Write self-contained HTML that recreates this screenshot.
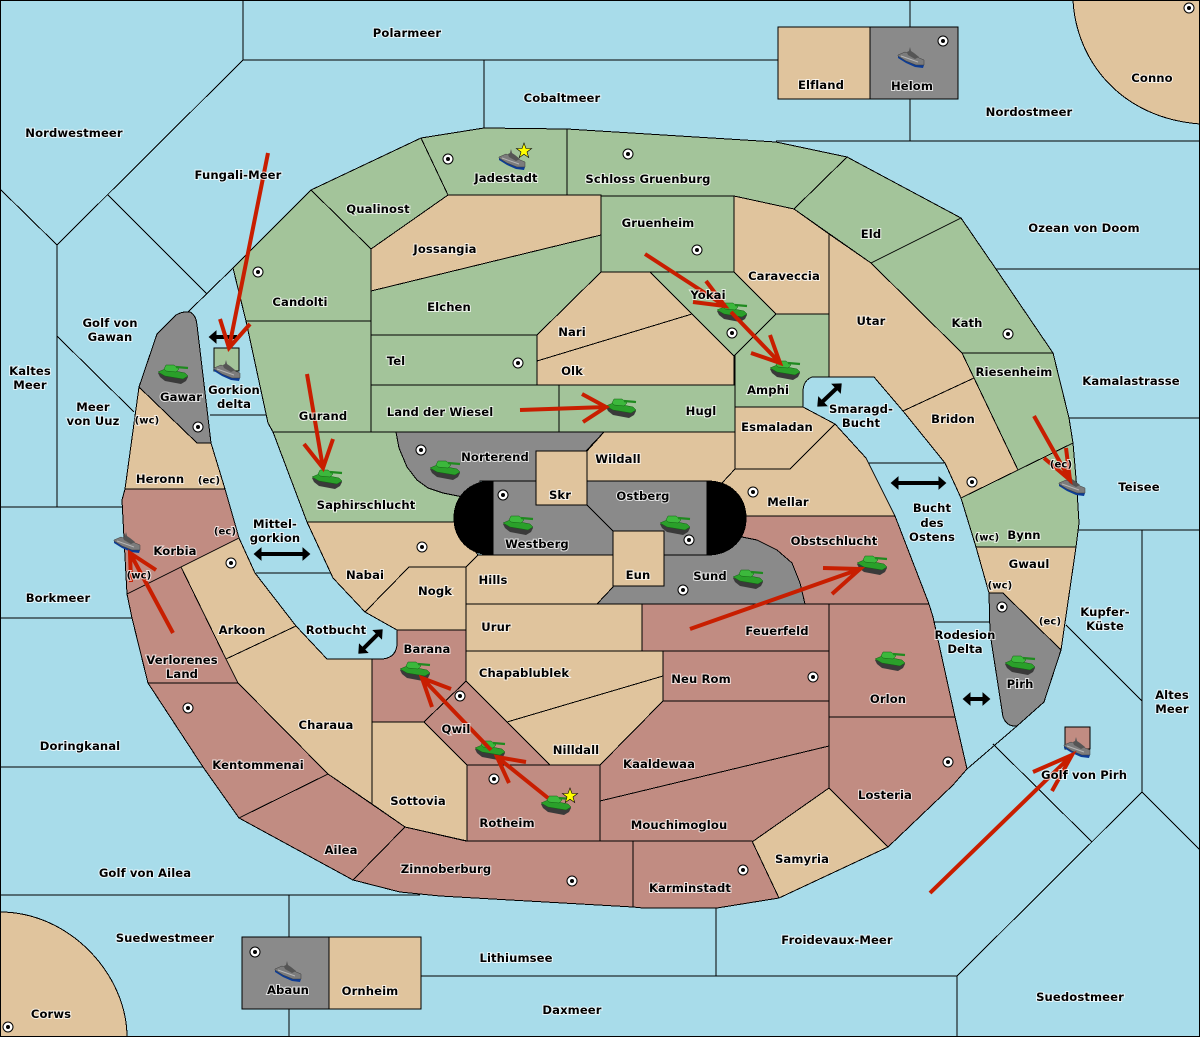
<!DOCTYPE html>
<html><head><meta charset="utf-8"><style>
html,body{margin:0;padding:0;background:#a8dcea}
svg{display:block}
.l{font:bold 11.6px "DejaVu Sans","Liberation Sans",sans-serif;letter-spacing:.1px;text-anchor:middle;fill:#000;stroke:#fff;stroke-opacity:.75;stroke-width:2px;paint-order:stroke;dominant-baseline:central}
.l .s{font-size:10px}
.g{fill:#a3c49a}.t{fill:#e0c49d}.r{fill:#c18c82}.y{fill:#8a8a8a}
.land path{stroke:#000;stroke-width:1;shape-rendering:crispEdges}
.sea{stroke:#000;stroke-width:1;fill:none;shape-rendering:crispEdges}
.red{fill:none;stroke:#c81e00;stroke-width:4}
.blk{stroke:#000;stroke-width:4;fill:none}
</style></head><body>
<svg xmlns="http://www.w3.org/2000/svg" width="1200" height="1037" viewBox="0 0 1200 1037">
<defs>
<marker id="h" viewBox="0 0 10 10" refX="7" refY="5" markerWidth="2" markerHeight="3.5" preserveAspectRatio="none" orient="auto-start-reverse"><path d="M0,0L10,5L0,10Z" fill="#000"/></marker>
<symbol id="tank" overflow="visible" viewBox="-16 -10 32 20" width="32" height="20">
<path d="M-15,-1L-13,3L-8,7L8,10L13,7L15,3L13,0Z" fill="#3a3a3a"/>
<path d="M-15,-2L-8,-5L12,-1L15,2L10,5L-8,2Z" fill="#2aa02a" stroke="#146014" stroke-width=".5"/>
<path d="M-7,-9L1,-9L6,-5L3,-2L-7,-3L-9,-5Z" fill="#3cb83c" stroke="#146014" stroke-width=".5"/>
<path d="M3,-7L15,-6" stroke="#1f8a1f" stroke-width="2.2" fill="none"/>
</symbol>
<symbol id="ship" overflow="visible" viewBox="-14 -12 28 24" width="28" height="24">
<path d="M-12,1V3L-4,8L5,12L13,13L14,10V7Z" fill="#0c3c96"/>
<path d="M-12,0L-5,-3L14,5V10L6,10L-4,6L-12,1Z" fill="#7c7c7c" stroke="#3c3c3c" stroke-width=".5"/>
<path d="M-3,-3L-1,-4L0,-8L1,-4L4,-2L9,2L5,4L-2,0Z" fill="#555"/>
<path d="M-9,1L8,7" stroke="#b5b5b5" stroke-width="1" fill="none"/>
</symbol>
<symbol id="dot" overflow="visible" viewBox="-6 -6 12 12" width="12" height="12"><circle r="5" fill="#fff" stroke="#000" stroke-width="1"/><circle r="2" fill="#000"/></symbol>
<symbol id="star" overflow="visible" viewBox="-9 -9 18 18" width="18" height="18"><path d="M0,-8L2,-2.5L7.6,-2.5L3,1L4.7,6.5L0,3.2L-4.7,6.5L-3,1L-7.6,-2.5L-2,-2.5Z" fill="#ff0" stroke="#000" stroke-width=".6"/></symbol>
</defs>
<rect width="1200" height="1037" fill="#a8dcea"/>
<path class="sea" d="M243,0V60H778M243,60L57,245L0,189M57,245V507M108,195L207,294M233,268L188,312M57,336L134,412M0,507H122M0,618H132M0,767H203M0,895H420M289,895V937M289,1009V1037M421,976H957M716,908V976M957,976V1037M957,976L1142,792L1200,850M1142,792V530M1078,530H1200M1066,625L1142,701M993,744L1092,842M1017,726L967,769M996,269H1200M1069,418H1200M776,141H1200M910,0V27M910,99V141M484,60V128M934,622H989M869,463H945M210,415H266M256,573H330"/>
<g class="land">
<path class="t" d="M1073,0C1076,60 1120,118 1200,124V0Z"/>
<path class="t" d="M0,912C70,912 127,975 127,1037H0Z"/>
<path class="t" d="M778,27H870V99H778Z"/><path class="y" d="M870,27H958V99H870Z"/>
<path class="y" d="M242,937H329V1009H242Z"/><path class="t" d="M329,937H421V1009H329Z"/>
<path class="g" d="M233,268L311,190L371,249V321H246Z"/>
<path class="g" d="M311,190L421,138L448,195L371,249Z"/>
<path class="g" d="M421,138L484,128L567,129V195H448Z"/>
<path class="g" d="M567,129L776,142L847,157L794,209L734,196H567Z"/>
<path class="g" d="M847,157L961,218L871,263L794,209Z"/>
<path class="g" d="M961,218L996,269L1053,353H962L871,263Z"/>
<path class="t" d="M448,195H601V235L371,291V249Z"/>
<path class="g" d="M371,291L601,235V272L537,335H371Z"/>
<path class="g" d="M601,196H734V272H601Z"/>
<path class="t" d="M734,196L794,209L829,234V314H776L734,272Z"/>
<path class="t" d="M537,335L601,272H650L692,314L537,361Z"/>
<path class="t" d="M537,361L692,314L734,356V385H537Z"/>
<path class="g" d="M650,272H734L776,314L734,356Z"/>
<path class="g" d="M776,314H829V377H812Q804,380 803,390V407H735V355Z"/>
<path class="g" d="M371,335H537V385H371Z"/>
<path class="g" d="M371,385H559V432H371Z"/>
<path class="g" d="M559,385H735V432H559Z"/>
<path class="g" d="M246,321H371V432H273L268,423Z"/>
<path class="g" d="M273,432H396L399,448L407,467L417,480L428,488L443,493L458,496L475,500V522H307Z"/>
<path class="t" d="M829,234L871,263L962,353L974,378L903,411L874,377H829Z"/>
<path class="t" d="M974,378L1018,470L961,498L945,463L903,411Z"/>
<path class="g" d="M962,353H1053L1069,418L1073,443L1018,470L974,378Z"/>
<path class="g" d="M1018,470L1073,443L1077,490L1079,523L1076,547H976L961,498Z"/>
<path class="t" d="M976,547H1076L1061,650L1003,593H989Z"/>
<path class="y" d="M989,593H1003L1061,650L1044,702L1017,726Q1007,727 1003,717L990,633Z"/>
<path class="t" d="M604,432H735V469L722,483H587V451Z"/>
<path class="t" d="M735,407H803L835,424L790,469H735Z"/>
<path class="t" d="M735,469H790L835,424L866,458L895,516H745L722,483Z"/>
<path class="r" d="M745,516H895L929,604H805L800,583L792,563L777,550L757,540L742,537Z"/>
<path class="r" d="M642,604H829V651H642Z"/>
<path class="r" d="M663,651H829V701H663Z"/>
<path class="r" d="M829,604H929L933,617L955,717H829Z"/>
<path class="r" d="M829,717H955L967,769L953,785L888,847L829,788Z"/>
<path class="t" d="M829,788L888,847L779,898L752,842Z"/>
<path class="r" d="M600,765L663,701H829V746L600,801Z"/>
<path class="r" d="M600,801L829,746V788L752,842H600Z"/>
<path class="r" d="M633,841H752L779,898L717,908H643L633,907Z"/>
<path class="r" d="M353,880L405,827L466,841H633V907L510,900L440,896L400,892Z"/>
<path class="r" d="M239,818L328,774L405,827L353,880Z"/>
<path class="r" d="M148,683H238L328,774L239,818L203,767Z"/>
<path class="r" d="M127,594L181,567L238,683H148L132,618Z"/>
<path class="t" d="M181,567L239,538L255,573L296,626L226,659Z"/>
<path class="t" d="M226,659L296,626L327,659H372V804L328,774L238,683Z"/>
<path class="r" d="M125,489H225L239,538L127,594L125,557L122,500Z"/>
<path class="t" d="M139,387L197,443H211L225,489H125Z"/>
<path class="y" d="M157,334L176,315Q183,311 190,312Q196,315 197,325L211,443H197L139,387Z"/>
<path class="t" d="M307,522H454L478,555L466,567H409L365,612L333,578Z"/>
<path class="t" d="M409,567H466V630H397L365,612Z"/>
<path class="t" d="M466,567L478,555H613V587L597,604H466Z"/>
<path class="t" d="M466,604H642V651H466Z"/>
<path class="t" d="M466,651H663V676L507,722L466,681Z"/>
<path class="t" d="M507,722L663,676V701L600,765H550Z"/>
<path class="r" d="M466,681L550,765H467L424,722Z"/>
<path class="r" d="M397,630H466V681L424,722H372V659H383Q397,657 397,643Z"/>
<path class="t" d="M372,722H424L467,765V841L405,827L372,804Z"/>
<path class="r" d="M467,765H600V841H467Z"/>
<path class="y" d="M396,432H604L586,451H536V481H480V500L458,496L443,493L428,488L417,480L407,467L399,448Z"/>
<path class="y" d="M597,604L613,587V555H707L730,540L742,537L757,540L777,550L792,563L800,583L805,604Z"/>
<path d="M493,481H707C732,481 746,498 746,518C746,538 732,555 707,555H493C468,555 454,538 454,518C454,498 468,481 493,481Z" fill="#000"/>
<path class="y" d="M493,481H707V555H493Z"/>
<path class="t" d="M536,451H587V505H536Z"/>
<path class="t" d="M613,531H664V586H613Z"/>
<path class="g" d="M214,348H239V371H214Z"/>
<path class="r" d="M1065,727H1090V749H1065Z"/>
</g>
<rect x=".5" y=".5" width="1199" height="1036" fill="none" stroke="#000"/>
<g class="blk"><path d="M237,337H211" marker-end="url(#h)"/><path d="M819,405L840,385" marker-start="url(#h)" marker-end="url(#h)"/><path d="M893,483H944" marker-start="url(#h)" marker-end="url(#h)"/><path d="M256,554H308" marker-start="url(#h)" marker-end="url(#h)"/><path d="M360,652L381,631" marker-start="url(#h)" marker-end="url(#h)"/><path d="M965,699H988" marker-start="url(#h)" marker-end="url(#h)"/></g>
<g>
<use href="#dot" x="2" y="1021"/><use href="#dot" x="1183" y="2"/><use href="#dot" x="937" y="35"/><use href="#dot" x="442" y="153"/><use href="#dot" x="622" y="148"/><use href="#dot" x="691" y="244"/><use href="#dot" x="252" y="266"/><use href="#dot" x="726" y="327"/><use href="#dot" x="1002" y="328"/><use href="#dot" x="512" y="357"/><use href="#dot" x="415" y="444"/><use href="#dot" x="192" y="421"/><use href="#dot" x="966" y="476"/><use href="#dot" x="747" y="486"/><use href="#dot" x="497" y="489"/><use href="#dot" x="683" y="534"/><use href="#dot" x="677" y="584"/><use href="#dot" x="416" y="541"/><use href="#dot" x="225" y="557"/><use href="#dot" x="182" y="702"/><use href="#dot" x="454" y="690"/><use href="#dot" x="488" y="773"/><use href="#dot" x="566" y="875"/><use href="#dot" x="807" y="671"/><use href="#dot" x="942" y="756"/><use href="#dot" x="737" y="864"/><use href="#dot" x="996" y="601"/><use href="#dot" x="249" y="946"/>
</g>
<g>
<use href="#tank" x="157" y="364"/><use href="#tank" x="311" y="469"/><use href="#tank" x="429" y="460"/><use href="#tank" x="502" y="515"/><use href="#tank" x="659" y="515"/><use href="#tank" x="732" y="569"/><use href="#tank" x="856" y="555"/><use href="#tank" x="874" y="651"/><use href="#tank" x="1004" y="655"/><use href="#tank" x="716" y="302"/><use href="#tank" x="769" y="360"/><use href="#tank" x="605" y="398"/><use href="#tank" x="399" y="661"/><use href="#tank" x="474" y="740"/><use href="#tank" x="540" y="795"/>
<use href="#ship" x="497" y="145"/><use href="#ship" x="212" y="356"/><use href="#ship" x="896" y="43"/><use href="#ship" x="273" y="957"/><use href="#ship" x="112" y="528"/><use href="#ship" x="1057" y="471"/><use href="#ship" x="1062" y="733"/>
<use href="#star" x="515" y="142"/><use href="#star" x="561" y="787"/>
</g>
<g class="red">
<path d="M268,153L229,348M220,319L229,348L250,324"/>
<path d="M307,374L323,468M304,444L323,468L333,439"/>
<path d="M520,410L606,407M582,394L606,407L583,422"/>
<path d="M645,254L725,306M706,281L725,306L693,302"/>
<path d="M731,312L780,363M770,335L780,363L751,353"/>
<path d="M1034,416L1070,480M1066,448L1070,480L1044,458"/>
<path d="M690,629L860,569M823,568L860,569L832,594"/>
<path d="M548,798L497,757M526,762L497,757L509,783"/>
<path d="M491,750L422,678M451,689L422,678L432,707"/>
<path d="M173,633L130,553M156,570L130,553L131,582"/>
<path d="M930,893L1072,755M1033,772L1072,755L1052,791"/>
</g>
<g class="l" transform="translate(0,1)">
<text x="407" y="32">Polarmeer</text><text x="562" y="97">Cobaltmeer</text><text x="821" y="84">Elfland</text><text x="912" y="85">Helom</text><text x="1152" y="77">Conno</text><text x="1029" y="111">Nordostmeer</text><text x="74" y="132">Nordwestmeer</text><text x="238" y="174">Fungali-Meer</text><text x="506" y="177">Jadestadt</text><text x="378" y="208">Qualinost</text><text x="648" y="178">Schloss Gruenburg</text><text x="658" y="222">Gruenheim</text><text x="871" y="233">Eld</text><text x="1084" y="227">Ozean von Doom</text><text x="445" y="248">Jossangia</text><text x="784" y="275">Caraveccia</text><text x="708" y="294">Yokai</text><text x="300" y="301">Candolti</text><text x="449" y="306">Elchen</text><text x="871" y="320">Utar</text><text x="967" y="322">Kath</text><text x="110" y="322">Golf von</text><text x="110" y="336">Gawan</text><text x="572" y="331">Nari</text><text x="396" y="360">Tel</text><text x="572" y="370">Olk</text><text x="30" y="370">Kaltes</text><text x="30" y="384">Meer</text><text x="1014" y="371">Riesenheim</text><text x="1131" y="380">Kamalastrasse</text><text x="768" y="389">Amphi</text><text x="181" y="396">Gawar</text><text x="234" y="389">Gorkion</text><text x="234" y="403">delta</text><text x="93" y="406">Meer</text><text x="93" y="420">von Uuz</text><text x="440" y="411">Land der Wiesel</text><text x="701" y="410">Hugl</text><text x="861" y="408">Smaragd-</text><text x="861" y="422">Bucht</text><text x="323" y="415">Gurand</text><text x="953" y="418">Bridon</text><text x="777" y="426">Esmaladan</text><text x="495" y="456">Norterend</text><text x="618" y="458">Wildall</text><text x="160" y="478">Heronn</text><text x="560" y="494">Skr</text><text x="643" y="495">Ostberg</text><text x="1139" y="486">Teisee</text><text x="788" y="501">Mellar</text><text x="366" y="504">Saphirschlucht</text><text x="932" y="507">Bucht</text><text x="932" y="522">des</text><text x="932" y="536">Ostens</text><text x="1024" y="534">Bynn</text><text x="275" y="523">Mittel-</text><text x="275" y="537">gorkion</text><text x="834" y="540">Obstschlucht</text><text x="537" y="543">Westberg</text><text x="175" y="550">Korbia</text><text x="1029" y="563">Gwaul</text><text x="365" y="574">Nabai</text><text x="638" y="574">Eun</text><text x="710" y="575">Sund</text><text x="493" y="579">Hills</text><text x="435" y="590">Nogk</text><text x="58" y="597">Borkmeer</text><text x="1105" y="611">Kupfer-</text><text x="1105" y="625">Küste</text><text x="496" y="626">Urur</text><text x="336" y="629">Rotbucht</text><text x="242" y="629">Arkoon</text><text x="777" y="630">Feuerfeld</text><text x="965" y="634">Rodesion</text><text x="965" y="648">Delta</text><text x="427" y="648">Barana</text><text x="182" y="659">Verlorenes</text><text x="182" y="673">Land</text><text x="524" y="672">Chapablublek</text><text x="701" y="678">Neu Rom</text><text x="1020" y="683">Pirh</text><text x="1172" y="694">Altes</text><text x="1172" y="708">Meer</text><text x="888" y="698">Orlon</text><text x="326" y="724">Charaua</text><text x="456" y="728">Qwil</text><text x="576" y="749">Nilldall</text><text x="80" y="745">Doringkanal</text><text x="659" y="763">Kaaldewaa</text><text x="258" y="764">Kentommenai</text><text x="1084" y="774">Golf von Pirh</text><text x="885" y="794">Losteria</text><text x="418" y="800">Sottovia</text><text x="507" y="822">Rotheim</text><text x="679" y="824">Mouchimoglou</text><text x="341" y="849">Ailea</text><text x="802" y="858">Samyria</text><text x="446" y="868">Zinnoberburg</text><text x="145" y="872">Golf von Ailea</text><text x="690" y="887">Karminstadt</text><text x="165" y="937">Suedwestmeer</text><text x="837" y="939">Froidevaux-Meer</text><text x="516" y="957">Lithiumsee</text><text x="288" y="989">Abaun</text><text x="370" y="990">Ornheim</text><text x="572" y="1009">Daxmeer</text><text x="1080" y="996">Suedostmeer</text><text x="51" y="1013">Corws</text>
<text class="s" x="147" y="420">(wc)</text><text class="s" x="1061" y="464">(ec)</text><text class="s" x="209" y="480">(ec)</text><text class="s" x="987" y="537">(wc)</text><text class="s" x="225" y="531">(ec)</text><text class="s" x="139" y="575">(wc)</text><text class="s" x="1000" y="585">(wc)</text><text class="s" x="1050" y="621">(ec)</text>
</g>
<path d="M587,505L613,531" stroke="#000" fill="none" shape-rendering="crispEdges"/>
</svg>
</body></html>
